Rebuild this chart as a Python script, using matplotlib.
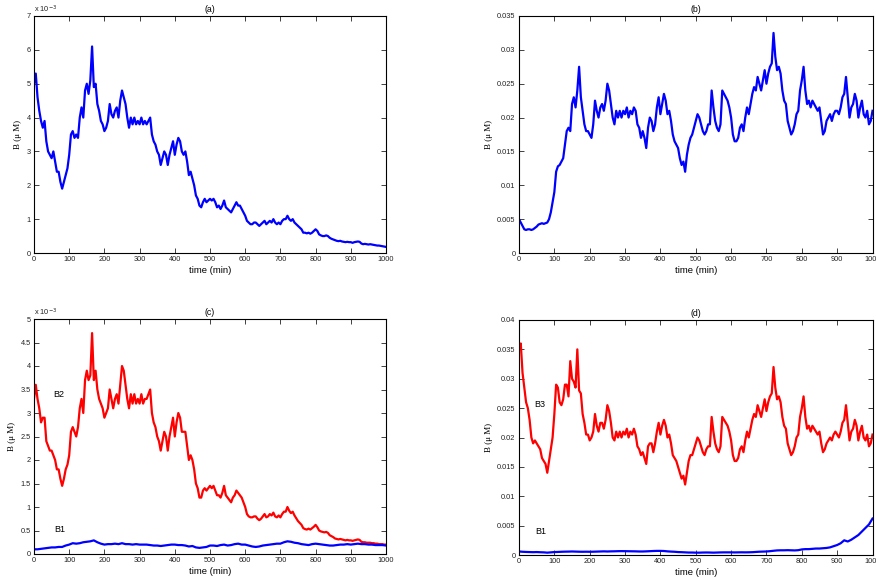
import numpy as np
import matplotlib
matplotlib.use("Agg")
import matplotlib.pyplot as plt
from matplotlib.ticker import FuncFormatter, MultipleLocator

# time grids (min)
t5 = list(range(0, 1001, 5))
t10 = list(range(0, 1001, 10))

# (a) B, units of 1e-3 uM, every 5 min
a_vals = [5.0, 5.3, 4.6, 4.2, 3.9, 3.7, 3.9, 3.3, 3.0, 2.9, 2.8, 3.0, 2.7, 2.4, 2.4, 2.1, 1.9, 2.1, 2.3, 2.5,
          2.9, 3.5, 3.6, 3.4, 3.5, 3.4, 4.0, 4.3, 4.0, 4.8, 5.0, 4.7, 5.1, 6.1, 4.9, 5.0, 4.4, 4.2, 3.9, 3.8,
          3.6, 3.7, 3.9, 4.4, 4.1, 4.0, 4.2, 4.3, 4.0, 4.5, 4.8, 4.6, 4.4, 4.0, 3.7, 4.0, 3.8, 4.0, 3.8, 3.9,
          3.8, 4.0, 3.8, 3.9, 3.8, 3.9, 4.0, 3.5, 3.3, 3.2, 3.0, 2.9, 2.6, 2.8, 3.0, 2.9, 2.6, 2.9, 3.1, 3.3,
          2.9, 3.2, 3.4, 3.3, 3.0, 2.9, 3.0, 2.7, 2.3, 2.4, 2.2, 2.0, 1.7, 1.6, 1.4, 1.35, 1.5, 1.6, 1.5, 1.55,
          1.6, 1.55, 1.6, 1.5, 1.35, 1.4, 1.3, 1.4, 1.55, 1.35, 1.3, 1.25, 1.2, 1.3, 1.4, 1.5, 1.4, 1.4, 1.3, 1.2,
          1.1, 0.95, 0.9, 0.85, 0.85, 0.9, 0.9, 0.85, 0.8, 0.85, 0.9, 0.95, 0.85, 0.9, 0.95, 0.9, 1.0, 0.9, 0.85, 0.9,
          0.85, 0.95, 1.0, 1.0, 1.1, 1.0, 0.95, 1.0, 0.9, 0.85, 0.8, 0.75, 0.7, 0.6, 0.6, 0.58, 0.6, 0.57, 0.6, 0.65,
          0.7, 0.65, 0.55, 0.52, 0.5, 0.5, 0.52, 0.5, 0.45, 0.42, 0.4, 0.38, 0.36, 0.35, 0.36, 0.34, 0.33, 0.32, 0.33, 0.32,
          0.32, 0.3, 0.32, 0.33, 0.34, 0.33, 0.28, 0.26, 0.27, 0.26, 0.25, 0.26, 0.25, 0.24, 0.23, 0.22, 0.22, 0.21, 0.2, 0.19,
          0.18]

# (b) B, units of 1e-3 uM, every 5 min
b_vals = [5.0, 4.5, 4.0, 3.5, 3.4, 3.5, 3.5, 3.4, 3.5, 3.7, 3.9, 4.2, 4.3, 4.4, 4.3, 4.4, 4.5, 5.0, 6.0, 7.5,
          9.0, 12.0, 12.8, 13.0, 13.5, 14.0, 16.0, 18.0, 18.5, 18.0, 22.0, 23.0, 21.5, 24.0, 27.5, 23.0, 21.0, 19.0, 18.0, 18.0,
          17.5, 17.0, 19.0, 22.5, 21.0, 20.0, 21.5, 22.0, 21.0, 22.5, 25.0, 24.0, 22.0, 20.0, 19.0, 21.0, 20.0, 21.0, 20.0, 21.0,
          20.5, 21.5, 20.0, 21.0, 20.5, 21.5, 21.0, 19.0, 18.5, 17.0, 18.0, 17.0, 15.5, 18.5, 20.0, 19.5, 18.0, 19.0, 21.5, 23.0,
          20.5, 22.0, 23.5, 22.5, 20.5, 21.0, 19.5, 17.5, 16.5, 16.0, 15.5, 14.0, 13.0, 13.5, 12.0, 14.5, 16.0, 17.0, 17.5, 18.5,
          19.5, 20.5, 20.0, 19.0, 18.0, 17.5, 18.0, 19.0, 19.0, 24.0, 21.5, 19.5, 18.5, 18.0, 19.0, 24.0, 23.5, 23.0, 22.5, 21.5,
          20.0, 17.5, 16.5, 16.5, 17.0, 18.5, 19.0, 18.0, 20.0, 21.5, 20.5, 22.0, 23.5, 24.5, 24.0, 26.0, 25.0, 24.0, 25.5, 27.0,
          25.0, 26.5, 27.5, 28.0, 32.5, 29.0, 27.0, 27.5, 26.5, 24.0, 22.5, 22.0, 19.5, 18.5, 17.5, 18.0, 19.0, 20.5, 21.0, 24.0,
          25.5, 27.5, 24.0, 22.0, 22.5, 21.5, 22.5, 22.0, 21.5, 21.0, 21.5, 19.5, 17.5, 18.0, 19.5, 20.0, 20.5, 19.5, 20.5, 21.0,
          21.0, 20.5, 21.5, 23.0, 23.5, 26.0, 23.0, 20.0, 21.5, 22.0, 23.5, 22.5, 20.0, 21.5, 22.5, 20.5, 20.0, 21.0, 19.0, 19.5,
          21.0]

# (c) B2, units of 1e-3 uM, every 5 min
c_b2 = [3.3, 3.6, 3.3, 3.1, 2.8, 2.9, 2.9, 2.4, 2.3, 2.2, 2.2, 2.1, 2.0, 1.8, 1.8, 1.6, 1.45, 1.6, 1.8, 1.9,
        2.1, 2.6, 2.7, 2.6, 2.5, 2.7, 3.1, 3.3, 3.0, 3.7, 3.9, 3.7, 3.8, 4.7, 3.7, 3.9, 3.5, 3.3, 3.2, 3.1,
        2.9, 3.0, 3.1, 3.5, 3.3, 3.1, 3.3, 3.4, 3.2, 3.6, 4.0, 3.9, 3.6, 3.3, 3.1, 3.4, 3.2, 3.4, 3.2, 3.3,
        3.2, 3.4, 3.2, 3.3, 3.3, 3.4, 3.5, 3.0, 2.8, 2.7, 2.5, 2.4, 2.2, 2.4, 2.6, 2.5, 2.2, 2.5, 2.7, 2.9,
        2.5, 2.8, 3.0, 2.9, 2.6, 2.6, 2.6, 2.3, 2.0, 2.1, 2.0, 1.8, 1.5, 1.4, 1.2, 1.2, 1.35, 1.4, 1.35, 1.4,
        1.45, 1.4, 1.45, 1.35, 1.25, 1.25, 1.2, 1.3, 1.45, 1.25, 1.2, 1.15, 1.1, 1.2, 1.25, 1.35, 1.3, 1.25, 1.2, 1.1,
        1.0, 0.85, 0.8, 0.78, 0.78, 0.8, 0.8, 0.75, 0.72, 0.75, 0.8, 0.85, 0.78, 0.8, 0.85, 0.82, 0.88, 0.8, 0.78, 0.82,
        0.78, 0.85, 0.9, 0.9, 1.0, 0.92, 0.87, 0.9, 0.82, 0.76, 0.7, 0.66, 0.62, 0.55, 0.53, 0.52, 0.54, 0.52, 0.55, 0.58,
        0.62, 0.57, 0.5, 0.48, 0.47, 0.46, 0.47, 0.45, 0.4, 0.38, 0.36, 0.33, 0.32, 0.31, 0.32, 0.31, 0.3, 0.29, 0.3, 0.29,
        0.29, 0.28, 0.29, 0.3, 0.31, 0.3, 0.26, 0.25, 0.25, 0.24, 0.24, 0.24, 0.23, 0.23, 0.22, 0.22, 0.21, 0.21, 0.21, 0.2,
        0.2]

# (c) B1, units of 1e-3 uM, every 10 min
c_b1 = [0.10, 0.10, 0.11, 0.12, 0.13, 0.14, 0.14, 0.15, 0.15, 0.18, 0.20, 0.23, 0.22, 0.23, 0.25, 0.26, 0.27, 0.29, 0.25, 0.22,
        0.20, 0.21, 0.21, 0.22, 0.21, 0.23, 0.21, 0.21, 0.20, 0.21, 0.20, 0.20, 0.20, 0.19, 0.18, 0.18, 0.17, 0.18, 0.19, 0.20,
        0.20, 0.19, 0.19, 0.18, 0.16, 0.17, 0.14, 0.13, 0.14, 0.15, 0.18, 0.18, 0.17, 0.19, 0.20, 0.18, 0.19, 0.21, 0.22, 0.20,
        0.20, 0.18, 0.16, 0.15, 0.16, 0.18, 0.19, 0.20, 0.21, 0.22, 0.22, 0.25, 0.27, 0.26, 0.24, 0.23, 0.21, 0.20, 0.19, 0.21,
        0.22, 0.21, 0.20, 0.19, 0.18, 0.18, 0.19, 0.20, 0.20, 0.21, 0.20, 0.21, 0.22, 0.21, 0.21, 0.20, 0.20, 0.19, 0.19, 0.19,
        0.18]

# (d) B3, units of 1e-3 uM, every 5 min
d_b3 = [35.0, 36.0, 31.0, 28.5, 26.0, 25.0, 23.0, 20.0, 19.0, 19.5, 19.0, 18.5, 18.0, 16.5, 16.0, 15.5, 14.0, 16.0, 18.0, 20.0,
        24.0, 29.0, 28.5, 26.0, 25.5, 26.5, 29.0, 29.0, 27.0, 33.0, 30.0, 29.5, 28.5, 35.0, 28.0, 27.5, 24.0, 22.5, 20.5, 20.5,
        19.5, 20.0, 21.0, 24.0, 22.0, 21.0, 22.5, 22.5, 21.5, 23.0, 25.5, 24.5, 22.5, 20.0, 19.5, 21.0, 20.0, 21.0, 20.0, 21.0,
        20.5, 21.5, 20.0, 21.0, 20.5, 21.5, 20.5, 18.5, 18.0, 17.0, 17.5, 16.5, 15.5, 18.5, 19.0, 19.0, 17.5, 19.0, 21.0, 22.5,
        20.5, 22.0, 23.0, 22.0, 20.0, 20.5, 19.0, 17.0, 16.5, 16.0, 15.0, 14.0, 13.0, 13.5, 12.0, 14.0, 16.0, 17.0, 17.0, 18.0,
        19.0, 20.0, 19.5, 18.5, 17.5, 17.0, 18.0, 18.5, 18.5, 23.5, 21.0, 19.0, 18.0, 17.5, 18.5, 23.5, 23.0, 22.5, 22.0, 21.0,
        19.5, 17.0, 16.0, 16.0, 16.5, 18.0, 18.5, 17.5, 19.5, 21.0, 20.0, 21.5, 23.0, 24.0, 23.5, 25.5, 24.5, 23.5, 25.0, 26.5,
        24.5, 26.0, 27.0, 27.5, 32.0, 28.5, 26.5, 27.0, 26.0, 23.5, 22.0, 21.5, 19.0, 18.0, 17.0, 17.5, 18.5, 20.0, 20.5, 23.5,
        25.0, 27.0, 23.5, 21.5, 22.0, 21.0, 22.0, 21.5, 21.0, 20.5, 21.0, 19.0, 17.5, 18.0, 19.0, 19.5, 20.0, 19.5, 20.5, 21.0,
        20.5, 20.0, 21.0, 22.5, 23.0, 25.5, 22.5, 19.5, 21.0, 21.5, 23.0, 22.0, 19.5, 21.0, 22.0, 20.0, 19.5, 20.5, 18.5, 19.0,
        20.5]

# (d) B1, units of 1e-3 uM, every 10 min
d_b1 = [0.60, 0.55, 0.52, 0.50, 0.48, 0.50, 0.47, 0.45, 0.40, 0.45, 0.50, 0.52, 0.55, 0.57, 0.58, 0.60, 0.58, 0.56, 0.55, 0.56,
        0.55, 0.56, 0.58, 0.60, 0.62, 0.60, 0.62, 0.63, 0.65, 0.66, 0.65, 0.64, 0.63, 0.62, 0.60, 0.60, 0.62, 0.65, 0.68, 0.70,
        0.70, 0.68, 0.62, 0.58, 0.55, 0.50, 0.48, 0.45, 0.42, 0.42, 0.40, 0.40, 0.42, 0.43, 0.42, 0.40, 0.42, 0.44, 0.45, 0.45,
        0.45, 0.44, 0.45, 0.46, 0.45, 0.46, 0.48, 0.52, 0.56, 0.58, 0.60, 0.65, 0.72, 0.78, 0.80, 0.80, 0.82, 0.80, 0.78, 0.82,
        0.95, 1.00, 1.00, 1.05, 1.10, 1.10, 1.15, 1.20, 1.30, 1.50, 1.70, 2.00, 2.50, 2.30, 2.60, 3.00, 3.40, 4.00, 4.60, 5.20,
        6.20]

BLUE = (0, 0, 1)
RED = (1, 0, 0)
SANS = ["Liberation Sans", "DejaVu Sans"]
SERIF = ["Liberation Serif", "DejaVu Serif"]

plt.rcParams["font.family"] = SANS
plt.rcParams["axes.linewidth"] = 0.8

fig = plt.figure(figsize=(8.76, 5.79), dpi=100)
W, H = 876.0, 579.0

def make_ax(l, r, top, bot):
    return fig.add_axes([l / W, 1 - bot / H, (r - l) / W, (bot - top) / H])

ax_a = make_ax(34, 386, 16, 253)
ax_b = make_ax(519, 872.5, 16, 253)
ax_c = make_ax(34, 386, 319, 554)
ax_d = make_ax(519, 872.5, 320, 555)

def style(ax, title, ymax, ystep, scaled):
    ax.set_xlim(0, 1000)
    ax.set_ylim(0, ymax)
    ax.xaxis.set_major_locator(MultipleLocator(100))
    ax.yaxis.set_major_locator(MultipleLocator(ystep))
    ax.tick_params(direction="in", length=3.5, width=0.6, labelsize=5.3,
                   top=True, right=True, pad=2.5, colors="#222222")
    if scaled:
        ax.yaxis.set_major_formatter(FuncFormatter(lambda v, p: "%g" % round(v * 1e3, 6)))
        ax.text(0.0, 1.005, r"x 10$^{-3}$", transform=ax.transAxes, fontsize=5.3,
                ha="left", va="bottom", color="#222222")
    else:
        ax.yaxis.set_major_formatter(FuncFormatter(lambda v, p: "%g" % round(v, 6)))
    ax.set_xlabel("time (min)", fontsize=6.8, labelpad=1.5)
    ax.set_ylabel("B (\u03bc M)", fontsize=6.5, family=SERIF, labelpad=3)
    ax.set_title(title, fontsize=6.3, pad=3)

lw = 1.6
ax_a.plot(t5, np.array(a_vals) * 1e-3, color=BLUE, lw=lw)
style(ax_a, "(a)", 7e-3, 1e-3, True)

ax_b.plot(t5, np.array(b_vals) * 1e-3, color=BLUE, lw=lw)
style(ax_b, "(b)", 0.035, 0.005, False)

ax_c.plot(t5, np.array(c_b2) * 1e-3, color=RED, lw=lw)
ax_c.plot(t10, np.array(c_b1) * 1e-3, color=BLUE, lw=lw)
style(ax_c, "(c)", 5e-3, 0.5e-3, True)
ax_c.text(55, 3.4e-3, "B2", fontsize=6.5, va="center")
ax_c.text(58, 0.52e-3, "B1", fontsize=6.5, va="center")

ax_d.plot(t5, np.array(d_b3) * 1e-3, color=RED, lw=lw)
ax_d.plot(t10, np.array(d_b1) * 1e-3, color=BLUE, lw=lw)
style(ax_d, "(d)", 0.04, 0.005, False)
ax_d.text(44, 0.0257, "B3", fontsize=6.5, va="center")
ax_d.text(46, 0.0040, "B1", fontsize=6.5, va="center")

fig.savefig("out.png", dpi=100)
